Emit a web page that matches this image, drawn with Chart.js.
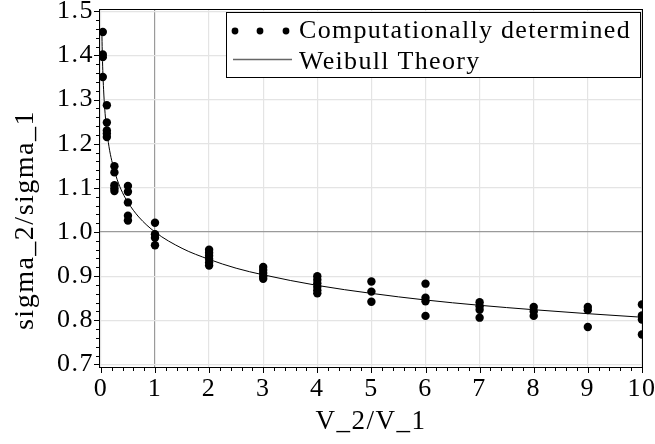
<!DOCTYPE html>
<html><head><meta charset="utf-8">
<script src="https://cdn.jsdelivr.net/npm/chart.js@4.4.1/dist/chart.umd.min.js"></script>
<style>html,body{margin:0;padding:0;background:#fff}#wrap{width:655px;height:444px}</style>
</head><body><div id="wrap"><canvas id="c" width="655" height="444"></canvas></div>
<script>
// Computationally determined points (V_2/V_1, sigma_2/sigma_1)
const simX = [
  0.035,0.035,0.035,0.035,
  0.11,0.11,0.11,0.11,0.11,
  0.25,0.25,0.25,0.25,0.25,
  0.5,0.5,0.5,0.5,0.5,
  1,1,1,1,
  2,2,2,2,2,2,
  3,3,3,3,3,
  4,4,4,4,4,4,
  5,5,5,
  6,6,6,6,
  7,7,7,7,
  8,8,8,
  9,9,9,
  10,10,10,10
];
const simY = [
  1.453,1.402,1.396,1.351,
  1.287,1.248,1.230,1.223,1.215,
  1.149,1.135,1.106,1.099,1.093,
  1.104,1.091,1.067,1.037,1.026,
  1.021,0.995,0.987,0.970,
  0.960,0.953,0.946,0.939,0.931,0.924,
  0.921,0.914,0.907,0.900,0.894,
  0.900,0.892,0.884,0.876,0.868,0.861,
  0.888,0.865,0.842,
  0.883,0.851,0.843,0.810,
  0.841,0.832,0.824,0.806,
  0.830,0.820,0.810,
  0.830,0.823,0.785,
  0.836,0.811,0.802,0.768
];
// Weibull theory curve
const weibullX = [0.018,0.025,0.035,0.05,0.07,0.1,0.15,0.2,0.3,0.4,0.5,0.7,1,1.5,2,2.5,3,4,5,6,7,8,9,10];
const weibullY = [1.454,1.410,1.366,1.322,1.281,1.239,1.193,1.162,1.119,1.089,1.067,1.034,1.000,0.963,0.938,0.918,0.903,0.879,0.861,0.846,0.834,0.824,0.815,0.807];

const seriesNames = ['Computationally determined','Weibull Theory'];
const xTitle = 'V_2/V_1';
const yTitle = 'sigma_2/sigma_1';

const FONT = '"Liberation Serif", "Times New Roman", Times, serif';
const SPACING = '1.5px';

const decor = {
  id: 'decor',
  beforeDraw(chart) {
    chart.ctx.letterSpacing = SPACING;
  },
  afterDraw(chart) {
    const c = chart.ctx, a = chart.chartArea;
    const xs = chart.scales.x, ys = chart.scales.y;
    c.save();
    c.letterSpacing = '0px';
    // frame
    c.strokeStyle = '#000';
    c.lineWidth = 1;
    c.strokeRect(Math.round(a.left) + 0.5, Math.round(a.top) + 0.5, Math.round(a.right - a.left) - 1, Math.round(a.bottom - a.top) - 1);
    // y ticks
    c.beginPath();
    for (let i = 0; i <= 40; i++) {
      const v = 0.7 + i * 0.02;
      const py = Math.round(ys.getPixelForValue(v)) + 0.5;
      const len = (i % 5 === 0) ? 5 : 3;
      c.moveTo(a.left, py); c.lineTo(a.left - len, py);
    }
    // x ticks
    for (let i = 0; i <= 50; i++) {
      const v = i * 0.2;
      const px = Math.round(xs.getPixelForValue(v)) + 0.5;
      const len = (i % 5 === 0) ? 5 : 3;
      c.moveTo(px, a.bottom); c.lineTo(px, a.bottom + len);
    }
    c.stroke();
    // y title
    c.letterSpacing = SPACING;
    c.fillStyle = '#000';
    c.font = '28px ' + FONT;
    c.textAlign = 'center';
    c.textBaseline = 'middle';
    c.translate(26, 220);
    c.rotate(-Math.PI / 2);
    c.fillText(yTitle, 0, 0);
    c.setTransform(1, 0, 0, 1, 0, 0);
    // legend
    c.letterSpacing = '0px';
    const lx = 226, ly = 12, lw = 414, lh = 65;
    c.fillStyle = '#fff';
    c.fillRect(lx, ly, lw, lh);
    c.strokeStyle = '#000';
    c.lineWidth = 1;
    c.strokeRect(lx + 0.5, ly + 0.5, lw, lh);
    c.fillStyle = '#000';
    [235, 260, 286].forEach(px => { c.beginPath(); c.arc(px, 31, 3.4, 0, Math.PI * 2); c.fill(); });
    c.strokeStyle = '#666';
    c.lineWidth = 1.5;
    c.beginPath(); c.moveTo(233, 59.5); c.lineTo(292, 59.5); c.stroke();
    c.letterSpacing = '1.3px';
    c.font = '26px ' + FONT;
    c.textBaseline = 'middle';
    c.textAlign = 'left';
    c.fillText(seriesNames[0], 299, 31);
    c.fillText(seriesNames[1], 299, 62);
    c.restore();
  }
};

new Chart(document.getElementById('c'), {
  type: 'scatter',
  data: {
    datasets: [
      {
        label: seriesNames[0],
        data: simX.map((x, i) => ({x: x, y: simY[i]})),
        pointRadius: 4.2,
        pointBackgroundColor: '#000',
        pointBorderColor: '#000',
        pointBorderWidth: 0,
        showLine: false
      },
      {
        label: seriesNames[1],
        data: weibullX.map((x, i) => ({x: x, y: weibullY[i]})),
        showLine: true,
        borderColor: '#000',
        borderWidth: 1,
        pointRadius: 0,
        cubicInterpolationMode: 'monotone',
        fill: false
      }
    ]
  },
  options: {
    responsive: false,
    animation: false,
    devicePixelRatio: 1,
    layout: {padding: {top: 9, right: 12, left: 0, bottom: 0}},
    plugins: {legend: {display: false}, tooltip: {enabled: false}},
    scales: {
      x: {
        type: 'linear', min: -0.035, max: 10.02,
        afterFit(s) { s.height = 76; s.paddingLeft = 0; s.paddingRight = 0; },
        ticks: {stepSize: 1, includeBounds: false, padding: 6, color: '#000', maxRotation: 0,
          font: {family: FONT, size: 26}, callback: v => String(Math.round(v))},
        grid: {drawTicks: false,
          color: ctx => (ctx.tick && Math.abs(ctx.tick.value - 1) < 1e-9) ? '#9a9a9a' : '#e4e4e4',
          lineWidth: 1.2},
        border: {display: false},
        title: {display: true, text: xTitle, color: '#000', font: {family: FONT, size: 27}, padding: {top: 0, bottom: 6}}
      },
      y: {
        type: 'linear', min: 0.692, max: 1.505,
        afterFit(s) { s.width = 99; s.paddingTop = 0; s.paddingBottom = 0; },
        ticks: {stepSize: 0.1, includeBounds: false, padding: 5, color: '#000',
          font: {family: FONT, size: 26}, callback: v => Number(v).toFixed(1)},
        grid: {drawTicks: false,
          color: ctx => (ctx.tick && Math.abs(ctx.tick.value - 1) < 1e-9) ? '#9a9a9a' : '#e4e4e4',
          lineWidth: 1.2},
        border: {display: false},
        title: {display: false, text: yTitle}
      }
    }
  },
  plugins: [decor]
});
</script>
</body></html>
